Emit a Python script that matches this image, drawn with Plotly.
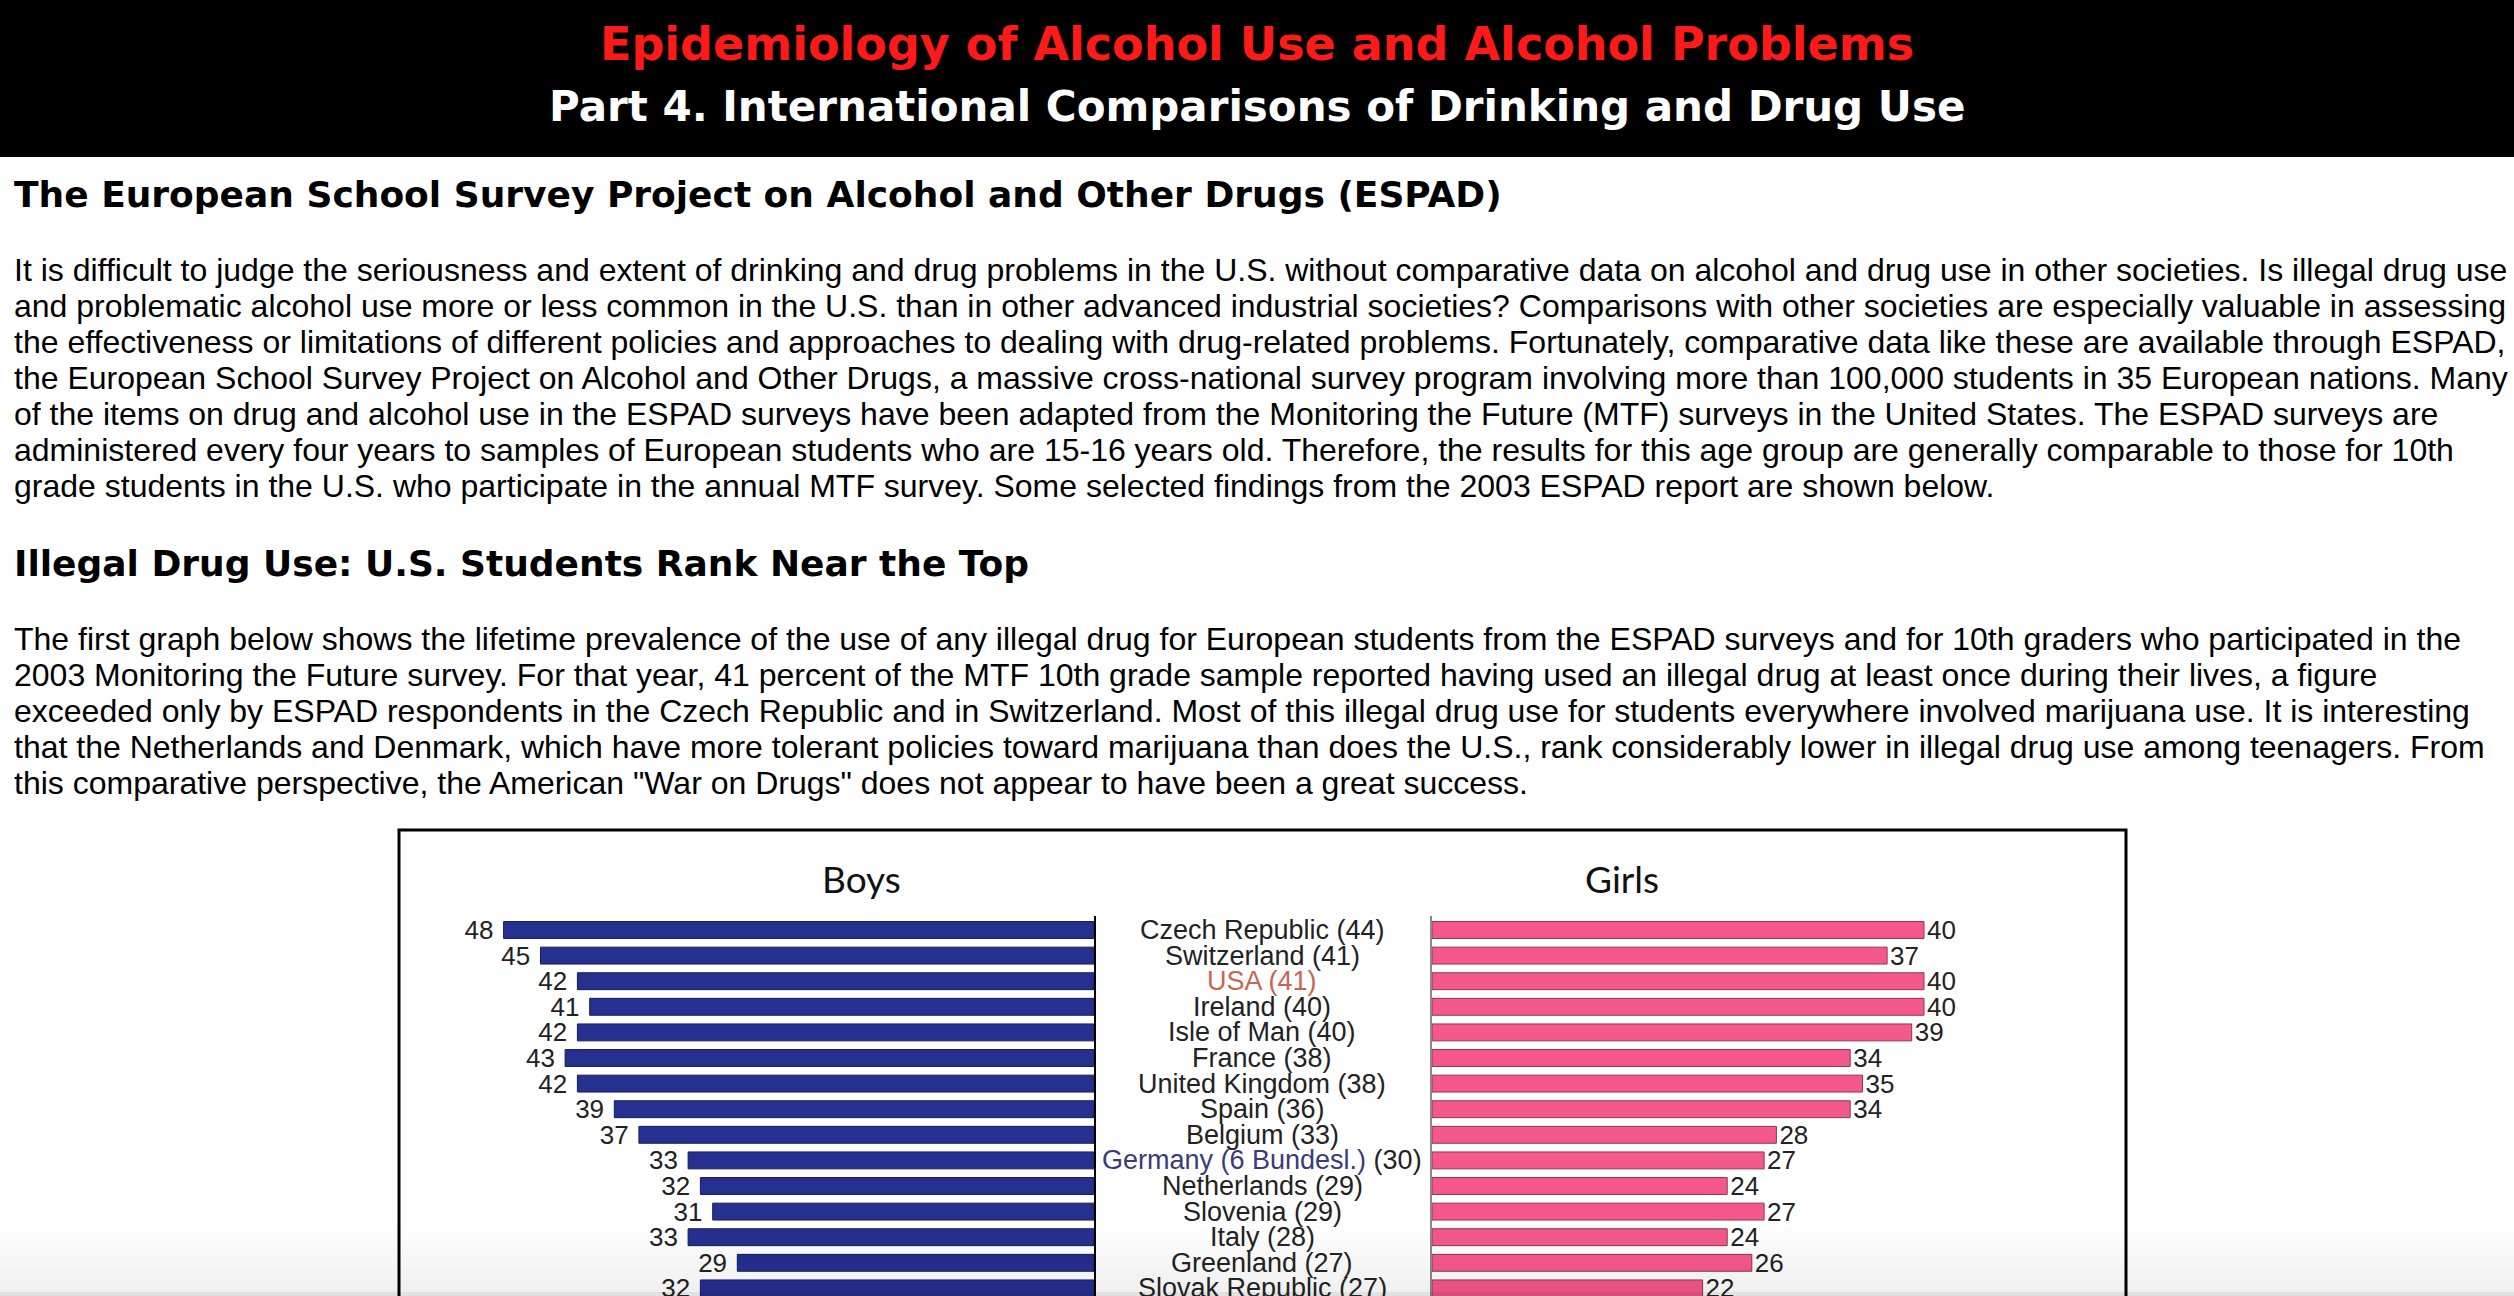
import plotly.graph_objects as go

W, H = 2514, 1296

# ESPAD 2003, lifetime use of any illegal drug (%)
countries = ["Czech Republic", "Switzerland", "USA", "Ireland", "Isle of Man", "France",
             "United Kingdom", "Spain", "Belgium", "Germany (6 Bundesl.)", "Netherlands",
             "Slovenia", "Italy", "Greenland", "Slovak Republic"]
totals = [44, 41, 41, 40, 40, 38, 38, 36, 33, 30, 29, 29, 28, 27, 27]
boys = [48, 45, 42, 41, 42, 43, 42, 39, 37, 33, 32, 31, 33, 29, 32]
girls = [40, 37, 40, 40, 39, 34, 35, 34, 28, 27, 24, 27, 24, 26, 22]

para1 = [
    "It is difficult to judge the seriousness and extent of drinking and drug problems in the U.S. without comparative data on alcohol and drug use in other societies. Is illegal drug use",
    "and problematic alcohol use more or less common in the U.S. than in other advanced industrial societies? Comparisons with other societies are especially valuable in assessing",
    "the effectiveness or limitations of different policies and approaches to dealing with drug-related problems. Fortunately, comparative data like these are available through ESPAD,",
    "the European School Survey Project on Alcohol and Other Drugs, a massive cross-national survey program involving more than 100,000 students in 35 European nations. Many",
    "of the items on drug and alcohol use in the ESPAD surveys have been adapted from the Monitoring the Future (MTF) surveys in the United States. The ESPAD surveys are",
    "administered every four years to samples of European students who are 15-16 years old. Therefore, the results for this age group are generally comparable to those for 10th",
    "grade students in the U.S. who participate in the annual MTF survey. Some selected findings from the 2003 ESPAD report are shown below.",
]
para2 = [
    "The first graph below shows the lifetime prevalence of the use of any illegal drug for European students from the ESPAD surveys and for 10th graders who participated in the",
    "2003 Monitoring the Future survey. For that year, 41 percent of the MTF 10th grade sample reported having used an illegal drug at least once during their lives, a figure",
    "exceeded only by ESPAD respondents in the Czech Republic and in Switzerland. Most of this illegal drug use for students everywhere involved marijuana use. It is interesting",
    "that the Netherlands and Denmark, which have more tolerant policies toward marijuana than does the U.S., rank considerably lower in illegal drug use among teenagers. From",
    "this comparative perspective, the American \"War on Drugs\" does not appear to have been a great success.",
]


def px(x):
    return x / W


def py(y):
    return 1 - y / H


BOLD = "DejaVu Sans"
SANS = "Liberation Sans"

fig = go.Figure()

fig.add_trace(go.Bar(
    y=countries, x=boys, orientation="h", xaxis="x", yaxis="y",
    marker=dict(color="#26308f", line=dict(color="#161c5c", width=1)),
    texttemplate="%{x}\u00a0", textposition="outside",
    textfont=dict(family=SANS, size=26, color="#222"),
    constraintext="none", cliponaxis=False, hoverinfo="skip",
))
fig.add_trace(go.Bar(
    y=countries, x=girls, orientation="h", xaxis="x2", yaxis="y2",
    marker=dict(color="#f5598b", line=dict(color="#8e3553", width=1)),
    texttemplate="%{x}", textposition="outside",
    textfont=dict(family=SANS, size=26, color="#222"),
    constraintext="none", cliponaxis=False, hoverinfo="skip",
))

# pixel geometry of the chart
row0, step = 930, 25.6
ytop = 916
yrange = [(H - row0) / step, (ytop - row0) / step]
ppu = 12.3  # pixels per percent
bx0, bx1 = 420, 1094
gx0, gx1 = 1432, 2100

ann = []
ann.append(dict(x=0.5, y=py(44), text="Epidemiology of Alcohol Use and Alcohol Problems",
                font=dict(family=BOLD, size=46, color="#ff1a1a", weight="bold"), yanchor="middle"))
ann.append(dict(x=0.5, y=py(106), text="Part 4. International Comparisons of Drinking and Drug Use",
                font=dict(family=BOLD, size=42, color="white", weight="bold"), yanchor="middle"))
ann.append(dict(x=px(12), y=py(194), xanchor="left",
                text="The European School Survey Project on Alcohol and Other Drugs (ESPAD)",
                font=dict(family=BOLD, size=36, color="black", weight="bold"), yanchor="middle"))
for i, line in enumerate(para1):
    ann.append(dict(x=px(12), y=py(270 + 36 * i), xanchor="left", text=line,
                    font=dict(family=SANS, size=32, color="black"), yanchor="middle"))
ann.append(dict(x=px(12), y=py(564), xanchor="left",
                text="Illegal Drug Use: U.S. Students Rank Near the Top",
                font=dict(family=BOLD, size=36, color="black", weight="bold"), yanchor="middle"))
for i, line in enumerate(para2):
    ann.append(dict(x=px(12), y=py(639 + 36 * i), xanchor="left", text=line,
                    font=dict(family=SANS, size=32, color="black"), yanchor="middle"))

ann.append(dict(x=px(861), y=py(878), text="Boys", yanchor="middle",
                font=dict(family="Lato", size=37, color="#111")))
ann.append(dict(x=px(1622), y=py(878), text="Girls", yanchor="middle",
                font=dict(family="Lato", size=37, color="#111")))

for name, tot in zip(countries, totals):
    if name == "USA":
        label = f"<span style='color:#c9654f'>{name} ({tot})</span>"
    elif name.startswith("Germany"):
        label = f"<span style='color:#3a3a7c'>{name}</span> ({tot})"
    else:
        label = f"{name} ({tot})"
    ann.append(dict(x=px(1262), xref="paper", y=name, yref="y", text=label,
                    yanchor="middle", font=dict(family=SANS, size=27, color="#222")))

for a in ann:
    a.setdefault("xref", "paper")
    a.setdefault("yref", "paper")
    a["showarrow"] = False

shapes = [
    dict(type="rect", xref="paper", yref="paper", x0=-0.01, x1=1.01, y0=py(157), y1=1.01,
         fillcolor="black", line=dict(width=0), layer="below"),
    dict(type="rect", xref="paper", yref="paper", x0=px(399), x1=px(2126), y0=-0.02, y1=py(830),
         fillcolor="rgba(0,0,0,0)", line=dict(color="black", width=3), layer="below"),
]
# light fade at the bottom of the window
for k in range(10):
    shapes.append(dict(type="rect", xref="paper", yref="paper", x0=0, x1=1,
                       y0=py(1226 + 7 * (k + 1)), y1=py(1226 + 7 * k),
                       fillcolor=f"rgba(0,0,0,{0.006 * (k + 1):.3f})", line=dict(width=0),
                       layer="above"))
shapes.append(dict(type="rect", xref="paper", yref="paper", x0=0, x1=1, y0=0, y1=py(1296 - 4),
                   fillcolor="rgba(0,0,0,0.06)", line=dict(width=0), layer="above"))

fig.update_layout(
    width=W, height=H,
    margin=dict(l=0, r=0, t=0, b=0),
    paper_bgcolor="white", plot_bgcolor="rgba(0,0,0,0)",
    showlegend=False, bargap=0.34,
    xaxis=dict(domain=[px(bx0), px(bx1)], range=[(bx1 - bx0) / ppu, 0], visible=False),
    xaxis2=dict(domain=[px(gx0), px(gx1)], range=[0, (gx1 - gx0) / ppu], visible=False),
    yaxis=dict(domain=[0, py(ytop)], range=yrange, anchor="x", side="right", type="category",
               showline=True, linecolor="black", linewidth=2, showticklabels=False,
               ticks="", showgrid=False, zeroline=False),
    yaxis2=dict(domain=[0, py(ytop)], range=yrange, anchor="x2", side="left", matches="y",
                showline=True, linecolor="#8a8a8a", linewidth=2, showticklabels=False,
                ticks="", showgrid=False, zeroline=False),
    annotations=ann,
    shapes=shapes,
)

fig.write_html("out.html", config={"displayModeBar": False},
               post_script="document.body.style.margin='0';document.body.style.overflow='hidden';")
